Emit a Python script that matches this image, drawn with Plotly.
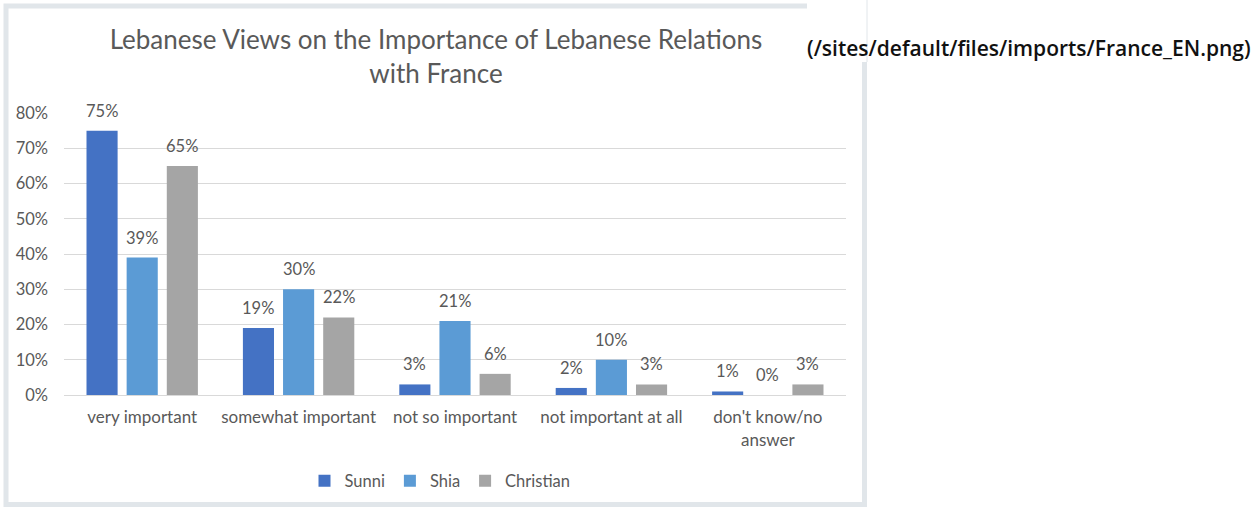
import plotly.graph_objects as go

# Survey results: share of respondents by sect
categories = ["very important", "somewhat important", "not so important",
              "not important at all", "don't know/no answer"]
category_labels = ["very important", "somewhat important", "not so important",
                   "not important at all", "don't know/no<br>answer"]
sunni = [75, 19, 3, 2, 1]
shia = [39, 30, 21, 10, 0]
christian = [65, 22, 6, 3, 3]
series_names = ["Sunni", "Shia", "Christian"]
series_colors = ["#4472C4", "#5B9BD5", "#A5A5A5"]
y_ticks = [0, 10, 20, 30, 40, 50, 60, 70, 80]
y_tick_labels = [f"{v}%" for v in y_ticks]

W, H = 1258, 511
M_L, M_R, M_T, M_B = 64, 412, 113, 116
PLOT_W = W - M_L - M_R
PLOT_H = H - M_T - M_B

FONT = "Lato"
TXT = "#595959"
BAR_GAP = 0.23


def px_x(px):
    """Figure pixel column -> paper x."""
    return (px - M_L) / PLOT_W


def px_y(py):
    """Figure pixel row (from top) -> paper y."""
    return (H - M_B - py) / PLOT_H


fig = go.Figure()
all_series = [sunni, shia, christian]
for name, vals, col in zip(series_names, all_series, series_colors):
    fig.add_trace(go.Bar(
        name=name, x=categories, y=vals, marker_color=col,
        marker_line_width=0, hoverinfo="skip",
    ))

# Value labels above each bar
slot = (1 - BAR_GAP) * (PLOT_W / len(categories)) / 3
annotations = []
for i, vals in enumerate(all_series):
    for cat, v in zip(categories, vals):
        annotations.append(dict(
            x=cat, y=v, xref="x", yref="y", text=f"{v}%",
            showarrow=False, xshift=(i - 1) * slot, yshift=8,
            yanchor="bottom", font=dict(family=FONT, size=16.5, color=TXT),
        ))

# Source path shown beside the chart
annotations.append(dict(
    xref="paper", yref="paper", x=px_x(805), y=px_y(48),
    xanchor="left", yanchor="middle", showarrow=False,
    text="(/sites/default/files/imports/France_EN.png)",
    font=dict(family="Open Sans", size=21, color="#111111", weight=600),
))

# Frame around the chart panel
frame_path = (
    f"M {px_x(807)},{px_y(6)} L {px_x(6)},{px_y(6)} "
    f"L {px_x(6)},{px_y(504.5)} L {px_x(864.5)},{px_y(504.5)} "
    f"L {px_x(864.5)},{px_y(62)}"
)
shapes = [
    dict(type="path", xref="paper", yref="paper", layer="below",
         path=frame_path, line=dict(color="#E1E6EA", width=5)),
    dict(type="line", xref="paper", yref="paper", layer="below",
         x0=px_x(867), x1=px_x(867), y0=px_y(0), y1=px_y(62),
         line=dict(color="#E1E6EA", width=1)),
]

fig.update_layout(
    width=W, height=H,
    margin=dict(l=M_L, r=M_R, t=M_T, b=M_B, pad=0),
    paper_bgcolor="white", plot_bgcolor="white",
    barmode="group", bargap=BAR_GAP, bargroupgap=0.225,
    title=dict(
        text="Lebanese Views on the Importance of Lebanese Relations<br>with France",
        xref="container", yref="container", x=436 / W, y=1 - 49 / H,
        xanchor="center", yanchor="middle",
        font=dict(family=FONT, size=26, color=TXT),
    ),
    legend=dict(
        orientation="h", x=px_x(440), xanchor="center",
        y=px_y(481), yanchor="middle",
        font=dict(family=FONT, size=16.5, color=TXT),
        itemwidth=30, traceorder="normal",
    ),
    annotations=annotations,
    shapes=shapes,
)

fig.update_xaxes(
    tickvals=categories, ticktext=category_labels,
    tickfont=dict(family=FONT, size=17, color=TXT),
    showline=True, linecolor="#D9D9D9", linewidth=1,
    ticks="outside", ticklen=7, tickcolor="rgba(0,0,0,0)",
    showgrid=False,
)
fig.update_yaxes(
    range=[0, 80], tickvals=y_ticks, ticktext=y_tick_labels,
    tickfont=dict(family=FONT, size=16.5, color=TXT),
    showgrid=True, gridcolor="#D9D9D9", gridwidth=1,
    zeroline=False, ticklabelstandoff=15,
)

fig.write_html("out.html")
